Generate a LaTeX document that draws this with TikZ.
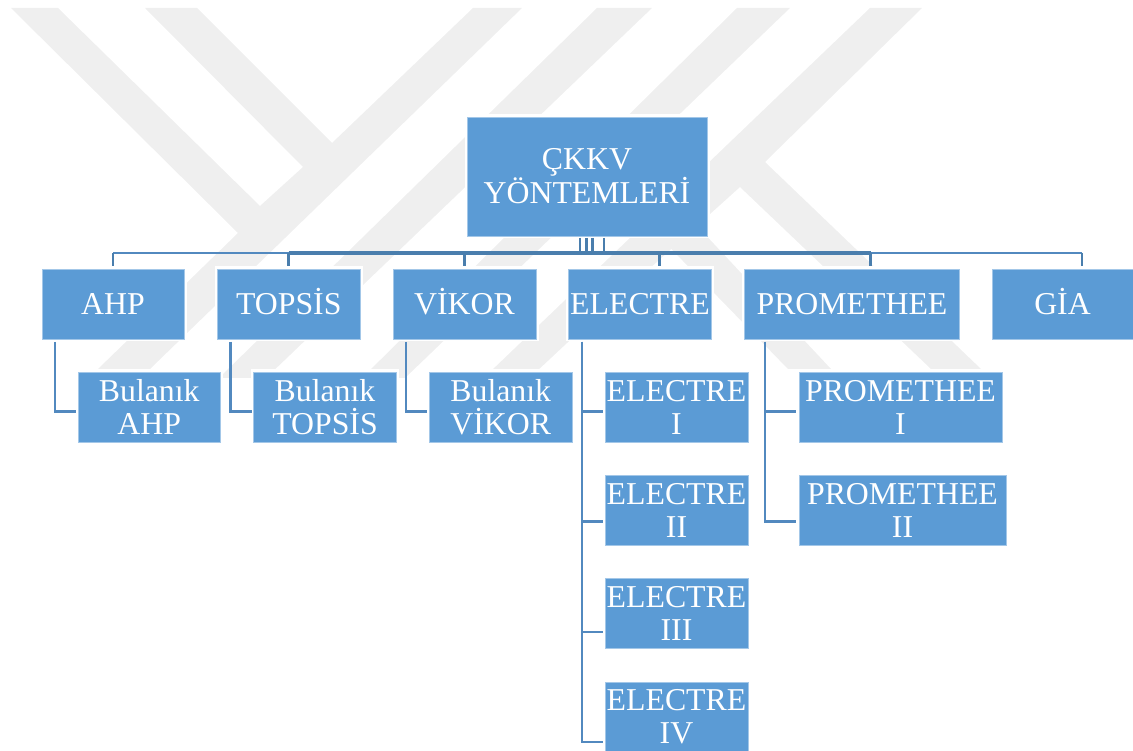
\documentclass[tikz,border=0pt]{standalone}
\usepackage{fontspec}
\setmainfont{Liberation Serif}
\definecolor{boxblue}{HTML}{5B9BD5}
\definecolor{boxedge}{HTML}{A3C7E8}
\definecolor{mark}{HTML}{EFEFEF}
\definecolor{linkblue}{HTML}{5289BF}
\definecolor{busdark}{HTML}{4A7EAD}
\tikzset{
  wm/.style={fill=mark,draw=none},
  boxnode/.style={fill=boxblue,draw=boxedge,line width=0.6pt,
    preaction={draw=white,line width=5pt},
    text=white,inner sep=0pt,align=center,
    node font=\fontsize{31.8pt}{33pt}\selectfont},
  single/.style={text height=21pt,text depth=0pt},
  link/.style={draw=linkblue,line width=2.7pt},
  bus/.style={draw=busdark,line width=3.4pt},
  thinbus/.style={draw=linkblue,line width=2.4pt},
  stub/.style={draw=busdark,line width=2.5pt}
}
\begin{document}
\begin{tikzpicture}[x=1pt,y=-1pt]
\useasboundingbox (0,0) rectangle (1133,751);
\clip (0,0) rectangle (1133,751);
% watermark
\fill[wm] (11,8)--(58,8)--(260,206)--(303,167)--(145,8)--(197,8)--(332,143)--(473,8)--(522,8)--(150,369)--(98,369)--(238,233)--cycle;
\fill[wm] (597,8)--(652,8)--(266,378)--(219,378)--cycle;
\fill[wm] (737,8)--(790,8)--(405,378)--(362,378)--cycle;
\fill[wm] (870,8)--(922,8)--(765,162)--(981,369)--(931,369)--(740,187)--(567,343)--(536,372)--(490,372)--cycle;
\fill[wm] (647,224)--(699,228)--(831,369)--(788,369)--cycle;
% boxes
\node[boxnode,minimum width=240pt,minimum height=119pt] (root) at (587,176.5) {ÇKKV\\YÖNTEMLERİ};
\node[boxnode,single,minimum width=142pt,minimum height=70pt] (ahp) at (113,304) {AHP};
\node[boxnode,single,minimum width=142.5pt,minimum height=70pt] (topsis) at (288.75,304) {TOPSİS};
\node[boxnode,single,minimum width=143pt,minimum height=70pt] (vikor) at (464.5,304) {VİKOR};
\node[boxnode,single,minimum width=143pt,minimum height=70pt] (electre) at (640,304) {ELECTRE};
\node[boxnode,single,minimum width=214.5pt,minimum height=70pt] (prom) at (852,304) {PROMETHEE};
\node[boxnode,single,minimum width=141pt,minimum height=70pt] (gia) at (1062.5,304) {GİA};
\node[boxnode,minimum width=142.5pt,minimum height=70pt] (bahp) at (149.25,407) {Bulanık\\AHP};
\node[boxnode,minimum width=142.5pt,minimum height=70pt] (btop) at (325,407) {Bulanık\\TOPSİS};
\node[boxnode,minimum width=142.5pt,minimum height=70pt] (bvik) at (500.75,407) {Bulanık\\VİKOR};
\node[boxnode,minimum width=143pt,minimum height=70pt] (e1) at (676.5,407) {ELECTRE\\I};
\node[boxnode,minimum width=143pt,minimum height=70pt] (e2) at (676.5,510) {ELECTRE\\II};
\node[boxnode,minimum width=143pt,minimum height=70pt] (e3) at (676.5,613) {ELECTRE\\III};
\node[boxnode,minimum width=143pt,minimum height=69pt] (e4) at (676.5,716.5) {ELECTRE\\IV};
\node[boxnode,minimum width=203pt,minimum height=70pt] (p1) at (900.5,407) {PROMETHEE\\I};
\node[boxnode,minimum width=207pt,minimum height=70pt] (p2) at (902.5,510) {PROMETHEE\\II};
% bus coordinates
\coordinate (bA) at (113,253);   \coordinate (dA) at (113,266);
\coordinate (bT) at (288.5,253); \coordinate (dT) at (288.5,266);
\coordinate (bV) at (464.5,253); \coordinate (dV) at (464.5,266);
\coordinate (bE) at (659.5,253); \coordinate (dE) at (659.5,266);
\coordinate (bP) at (870.5,253); \coordinate (dP) at (870.5,266);
\coordinate (bG) at (1082,253);  \coordinate (dG) at (1082,266);
\coordinate (s1a) at (580,238);   \coordinate (s1b) at (580,252);
\coordinate (s2a) at (586.5,238); \coordinate (s2b) at (586.5,252);
\coordinate (s3a) at (592.5,238); \coordinate (s3b) at (592.5,252);
\coordinate (s4a) at (604,238);   \coordinate (s4b) at (604,252);
\draw[thinbus] (bA) -- (bG);
\draw[bus] (bT) -- (bP);
\draw[stub] (s1a) -- (s1b);
\draw[stub] (s2a) -- (s2b);
\draw[stub] (s3a) -- (s3b);
\draw[stub] (s4a) -- (s4b);
\draw[stub] (bA) -- (dA);
\draw[stub] (bT) -- (dT);
\draw[stub] (bV) -- (dV);
\draw[stub] (bE) -- (dE);
\draw[stub] (bP) -- (dP);
\draw[stub] (bG) -- (dG);
% child connectors
\coordinate (cA) at (55,342);   \coordinate (cAe) at (76,411.5);
\coordinate (cT) at (230.5,342);\coordinate (cTe) at (251.5,411.5);
\coordinate (cV) at (406,342);  \coordinate (cVe) at (427,411.5);
\coordinate (cE) at (582,342);
\coordinate (cE1) at (602.5,411.5);
\coordinate (cE2) at (602.5,521.5);
\coordinate (cE3) at (602.5,632);
\coordinate (cE4) at (602.5,742);
\coordinate (cP) at (765,342);
\coordinate (cP1) at (796,411.5);
\coordinate (cP2) at (796,521.5);
\draw[link] (cA) |- (cAe);
\draw[link] (cT) |- (cTe);
\draw[link] (cV) |- (cVe);
\draw[link] (cE) |- (cE4);
\draw[link] (cE) |- (cE1);
\draw[link] (cE) |- (cE2);
\draw[link] (cE) |- (cE3);
\draw[link] (cP) |- (cP2);
\draw[link] (cP) |- (cP1);
\end{tikzpicture}
\end{document}
